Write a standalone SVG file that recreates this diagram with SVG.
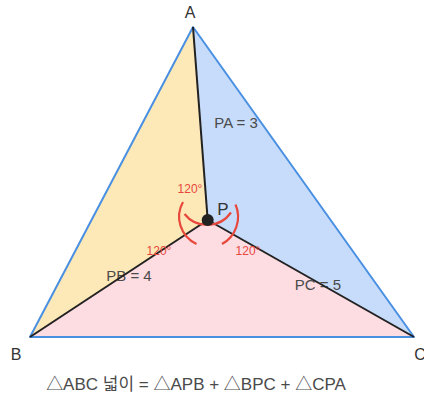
<svg xmlns="http://www.w3.org/2000/svg" width="424" height="396" viewBox="0 0 424 396">
<style>
.lbl{font-family:"Liberation Sans",Arial,"Noto Sans CJK KR",sans-serif;fill:#4a4a4a;font-size:15px;text-anchor:middle}
.vtx{font-family:"Liberation Sans",Arial,sans-serif;fill:#333;font-size:16px;text-anchor:middle}
.ang{font-family:"Liberation Sans",Arial,sans-serif;fill:#e8473b;font-size:12px;text-anchor:middle}
.arc{fill:none;stroke:#e8473b;stroke-width:2.2}
.seg{stroke:#222;stroke-width:2;fill:none}
</style>
<rect width="424" height="396" fill="#ffffff"/>
<g id="regions">
<polygon id="APB" points="193,27 207.7,220 30,337" fill="#fde8b7"/>
<polygon id="APC" points="193,27 207.7,220 414,337" fill="#c7dcfb"/>
<polygon id="BPC" points="30,337 207.7,220 414,337" fill="#fddce2"/>
</g>
<g id="labels">
<text class="lbl" x="236" y="128">PA = 3</text>
<text class="lbl" x="129" y="281">PB = 4</text>
<text class="lbl" x="318" y="290">PC = 5</text>
</g>
<g id="connectors">
<polygon points="193,27 30,337 414,337" fill="none" stroke="#4a90e2" stroke-width="2" stroke-linejoin="round"/>
<line class="seg" x1="193" y1="27" x2="207.7" y2="220"/>
<line class="seg" x1="30" y1="337" x2="207.7" y2="220"/>
<line class="seg" x1="414" y1="337" x2="207.7" y2="220"/>
</g>
<g id="angles">
<path class="arc" d="M183,202 A30,30 0 0,0 196.5,244"/>
<path class="arc" d="M235.5,204.5 A31,31 0 0,1 222,244"/>
<path class="arc" d="M184.5,214 A29,29 0 0,0 231,212.5"/>
<text class="ang" x="190" y="193">120°</text>
<text class="ang" x="159" y="255">120°</text>
<text class="ang" x="248" y="255">120°</text>
</g>
<g id="P">
<circle cx="207.7" cy="220" r="6" fill="#222"/>
<text class="vtx" x="223" y="215" style="font-size:17px">P</text>
</g>
<g id="A"><text class="vtx" x="190" y="18">A</text></g>
<g id="B"><text class="vtx" x="16" y="360">B</text></g>
<g id="C"><text class="vtx" x="420" y="360">C</text></g>
<g id="formula"><text class="lbl" x="196" y="390" style="font-size:17px">△ABC 넓이 = △APB + △BPC + △CPA</text></g>
</svg>
